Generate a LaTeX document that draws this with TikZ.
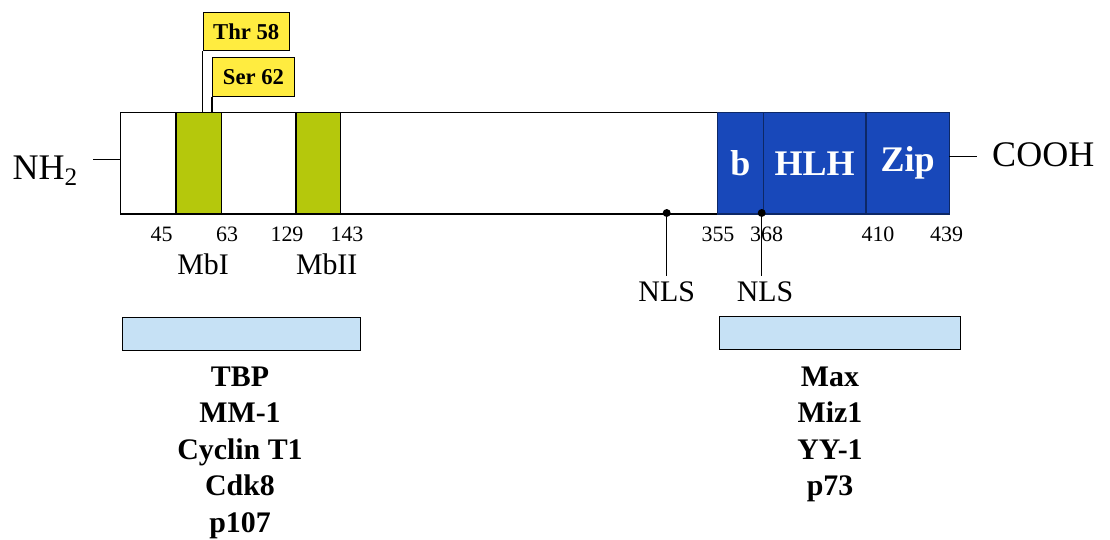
\documentclass[tikz,border=0pt]{standalone}
\usepackage{fontspec}
\setmainfont{Liberation Serif}
\usetikzlibrary{positioning}

\definecolor{mbgreen}{RGB}{181,200,12}
\definecolor{bhlhblue}{RGB}{24,72,186}
\definecolor{siteyellow}{RGB}{255,236,64}
\definecolor{partnerblue}{RGB}{198,225,245}

\tikzset{
  seg/.style={draw, anchor=north west, minimum height=2.03cm, inner sep=0pt, outer sep=0pt},
  mbox/.style={seg, fill=mbgreen},
  bbox/.style={seg, fill=bhlhblue, draw=bhlhblue!55!black, text=white,
    font=\bfseries\fontsize{20.5}{24}\selectfont},
  site/.style={draw, fill=siteyellow, anchor=north west, minimum height=0.77cm,
    inner sep=0pt, font=\bfseries\fontsize{12.9}{15}\selectfont},
  partner/.style={draw, fill=partnerblue, anchor=north west, minimum height=0.66cm, inner sep=0pt},
  resnum/.style={anchor=base, font=\fontsize{12.5}{15}\selectfont},
  motif/.style={anchor=base, font=\fontsize{17}{20}\selectfont},
  terminus/.style={anchor=base west, inner sep=0pt, font=\fontsize{20.5}{24}\selectfont},
  plist/.style={anchor=north, align=center, inner sep=0pt,
    font=\bfseries\fontsize{17}{20.7}\selectfont},
  nlsdot/.style={fill, circle, inner sep=1.6pt}
}

\begin{document}
\begin{tikzpicture}[x=0.02cm,y=-0.02cm,line width=0.6pt]
  \useasboundingbox (0,0) rectangle (1110,540);

  % the protein bar
  \node[seg, minimum width=16.57cm] (bar) at (120.7,112.5) {};

  % Myc boxes I and II
  \node[mbox, minimum width=0.914cm] (mb1) at (176,112.5) {};
  \node[mbox, minimum width=0.894cm] (mb2) at (296,112.5) {};

  % basic / helix-loop-helix / leucine zipper
  \node[bbox, minimum width=0.92cm] (b) at (717.3,112.5) {b};
  \node[bbox, minimum width=2.054cm] (hlh) at (763.3,112.5) {HLH};
  \node[bbox, minimum width=1.666cm] (zip) at (866,112.5) {Zip};

  % ends of the chain
  \node[terminus] (nh) at (12,180) {NH\textsubscript{2}};
  \coordinate (nhtick) at (93,159.3);
  \draw (nhtick) -- (nhtick -| bar.west);
  \node[terminus] (cooh) at (991.7,166.7) {COOH};
  \coordinate (cotick) at (976.7,156.7);
  \draw (cotick) -- (cotick -| zip.east);

  % phosphorylation sites
  \node[site, minimum width=1.72cm] (thr) at (202.7,11.7) {Thr 58};
  \node[site, minimum width=1.64cm] (ser) at (212,57.3) {Ser 62};
  \draw (thr.south west) -- (thr.south west |- bar.north);
  \draw (ser.south west) -- (ser.south west |- bar.north);

  % residue numbers
  \foreach \n/\x in {45/161.7, 63/227, 129/287, 143/347, 355/718, 368/766.7, 410/878, 439/946.7}
    \node[resnum] (r\n) at (\x,241.5) {\n};

  \node[motif] (mbI) at (203,275) {MbI};
  \node[motif] (mbII) at (326.7,275) {MbII};

  % nuclear localisation signals
  \node[nlsdot] (d1) at (666.7,213) {};
  \node[nlsdot] (d2) at (761.7,213) {};
  \node[motif] (nls1) at (666.7,301.7) {NLS};
  \node[motif] (nls2) at (765,301.7) {NLS};
  \draw (d1.center) -- (d1.center |- nls1.north);
  \draw (d2.center) -- (d2.center |- nls2.north);

  % interaction regions and partners
  \node[partner, minimum width=4.77cm] (left) at (121.7,317) {};
  \node[partner, minimum width=4.81cm] (right) at (719.3,316) {};

  \node[plist] (lpart) at (240,366.5) {TBP\\MM-1\\Cyclin T1\\Cdk8\\p107};
  \node[plist] (rpart) at (830,366.5) {Max\\Miz1\\YY-1\\p73};

\end{tikzpicture}
\end{document}
